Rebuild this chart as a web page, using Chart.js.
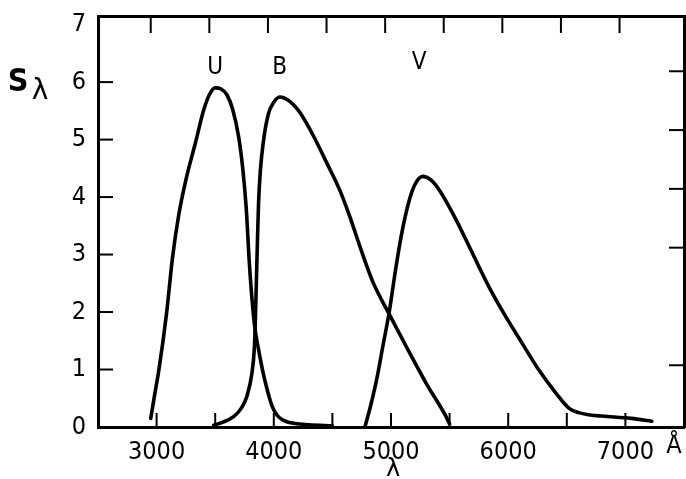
<!DOCTYPE html>
<html><head><meta charset="utf-8">
<script src="https://cdn.jsdelivr.net/npm/chart.js@4.4.1/dist/chart.umd.min.js"></script>
<style>html,body{margin:0;padding:0;background:#fff;}canvas{display:block;}</style>
</head><body>
<canvas id="c" width="686" height="479"></canvas>
<script>
const FONT = '"Liberation Sans Narrow","DejaVu Sans Condensed","Liberation Sans",sans-serif';

// U filter response (wavelength in Å, relative response)
const uWave = [2950, 2980, 3020, 3085, 3136, 3190, 3250, 3331, 3400, 3450, 3500, 3550, 3600, 3650, 3700, 3735, 3765, 3790, 3815, 3840, 3867, 3909, 3950, 3986, 4030, 4079, 4180, 4300, 4500];
const uResp = [0.15, 0.52, 1.0, 1.98, 2.95, 3.7, 4.3, 4.94, 5.5, 5.78, 5.9, 5.88, 5.78, 5.52, 5.05, 4.5, 3.8, 2.9, 2.2, 1.7, 1.38, 0.94, 0.6, 0.36, 0.2, 0.12, 0.06, 0.04, 0.02];
// B filter response
const bWave = [3487, 3560, 3657, 3720, 3770, 3813, 3833, 3842, 3851, 3860, 3870, 3885, 3910, 3954, 4000, 4054, 4120, 4170, 4223, 4334, 4453, 4563, 4650, 4750, 4846, 4988, 5130, 5300, 5470, 5500];
const bResp = [0.03, 0.08, 0.18, 0.32, 0.53, 0.93, 1.34, 1.81, 2.5, 3.2, 3.9, 4.45, 4.95, 5.45, 5.65, 5.74, 5.69, 5.6, 5.47, 5.08, 4.59, 4.12, 3.65, 3.05, 2.52, 1.95, 1.4, 0.76, 0.18, 0.05];
// V filter response
const vWave = [4780, 4830, 4880, 4930, 4985, 5040, 5090, 5150, 5200, 5270, 5340, 5413, 5557, 5693, 5838, 5982, 6118, 6262, 6407, 6517, 6600, 6700, 6800, 7050, 7225];
const vResp = [0.02, 0.4, 0.85, 1.4, 2.0, 2.75, 3.35, 3.9, 4.2, 4.36, 4.3, 4.12, 3.6, 3.03, 2.43, 1.91, 1.46, 0.99, 0.59, 0.33, 0.25, 0.21, 0.19, 0.15, 0.1];

const xTickMarks = [3000, 3500, 4000, 4500, 5000, 5500, 6000, 6500, 7000];
const xTickLabels = [3000, 4000, 5000, 6000, 7000];
const yTickLabels = [0, 1, 2, 3, 4, 5, 6, 7];
const yInnerTicks = [1, 2, 3, 4, 5, 6];
const yRightTicks = [1, 3, 4, 5, 6];
const curveNames = ['U', 'B', 'V'];
const namePosX = [3500, 4050, 5240];
const namePosY = [6.25, 6.25, 6.33];

const toPts = (xs, ys) => xs.map((x, i) => ({x: x, y: ys[i]}));
const lineStyle = {borderColor: '#000', borderWidth: 3.6, pointRadius: 0, fill: false,
  cubicInterpolationMode: 'monotone', borderCapStyle: 'round', borderJoinStyle: 'round'};
const noPad = s => { s.paddingTop = 0; s.paddingBottom = 0; s.paddingLeft = 0; s.paddingRight = 0; };

const decor = {
  id: 'decor',
  afterDraw(chart) {
    const {ctx, chartArea: a, scales} = chart;
    ctx.save();
    ctx.strokeStyle = '#000'; ctx.lineWidth = 2;
    const seg = (x1, y1, x2, y2) => { ctx.beginPath(); ctx.moveTo(x1, y1); ctx.lineTo(x2, y2); ctx.stroke(); };
    xTickMarks.forEach(v => { const p = scales.x.getPixelForValue(v); seg(p, a.bottom, p, a.bottom - 14); });
    xTickMarks.forEach(v => { const p = scales.x2.getPixelForValue(v); seg(p, a.top, p, a.top + 17); });
    yInnerTicks.forEach(v => { const p = scales.y.getPixelForValue(v); seg(a.left, p, a.left + 15, p); });
    yRightTicks.forEach(v => { const p = scales.y2.getPixelForValue(v); seg(a.right, p, a.right - 15, p); });
    ctx.fillStyle = '#000'; ctx.textAlign = 'center'; ctx.textBaseline = 'middle';
    ctx.font = '24px ' + FONT;
    curveNames.forEach((n, i) => ctx.fillText(n, scales.x.getPixelForValue(namePosX[i]), scales.y.getPixelForValue(namePosY[i])));
    ctx.font = 'bold 32px ' + FONT;
    ctx.fillText('S', 18, 83);
    ctx.font = '28px "DejaVu Sans", sans-serif';
    ctx.fillText('λ', 40, 92);
    ctx.font = '24px "DejaVu Sans", sans-serif';
    ctx.fillText('λ', 393, 470);
    ctx.font = '25px ' + FONT;
    ctx.fillText('Å', 674, 446);
    ctx.restore();
  }
};

new Chart(document.getElementById('c'), {
  type: 'line',
  data: {
    datasets: [
      Object.assign({label: 'U', data: toPts(uWave, uResp)}, lineStyle),
      Object.assign({label: 'B', data: toPts(bWave, bResp)}, lineStyle),
      Object.assign({label: 'V', data: toPts(vWave, vResp)}, lineStyle)
    ]
  },
  options: {
    responsive: false, animation: false, devicePixelRatio: 1,
    layout: {padding: {top: 16, right: 2, left: 0, bottom: 0}},
    plugins: {legend: {display: false}, tooltip: {enabled: false}},
    scales: {
      x: {
        type: 'linear', position: 'bottom', min: 2500, max: 7500,
        afterBuildTicks: s => { s.ticks = xTickMarks.map(v => ({value: v})); },
        afterFit: s => { s.height = 52; noPad(s); },
        grid: {display: false, drawTicks: false},
        border: {display: true, width: 3, color: '#000'},
        ticks: {color: '#000', font: {family: FONT, size: 25}, padding: 10, maxRotation: 0, autoSkip: false,
          callback: v => xTickLabels.includes(v) ? String(v) : ''}
      },
      x2: {
        type: 'linear', position: 'top', min: 2550, max: 7550,
        afterBuildTicks: s => { s.ticks = xTickMarks.map(v => ({value: v})); },
        afterFit: s => { s.height = 0; noPad(s); },
        grid: {display: false, drawTicks: false},
        border: {display: true, width: 3, color: '#000'},
        ticks: {display: false}
      },
      y: {
        type: 'linear', position: 'left', min: 0, max: 7.15,
        afterBuildTicks: s => { s.ticks = yTickLabels.map(v => ({value: v})); },
        afterFit: s => { s.width = 98; noPad(s); },
        grid: {display: false, drawTicks: false},
        border: {display: true, width: 3, color: '#000'},
        ticks: {color: '#000', font: {family: FONT, size: 25}, padding: 12, callback: v => String(v)}
      },
      y2: {
        type: 'linear', position: 'right', min: -0.05, max: 6.94,
        afterBuildTicks: s => { s.ticks = yRightTicks.map(v => ({value: v})); },
        afterFit: s => { s.width = 0; noPad(s); },
        grid: {display: false, drawTicks: false},
        border: {display: true, width: 3, color: '#000'},
        ticks: {display: false}
      }
    }
  },
  plugins: [decor]
});
</script>
</body></html>
